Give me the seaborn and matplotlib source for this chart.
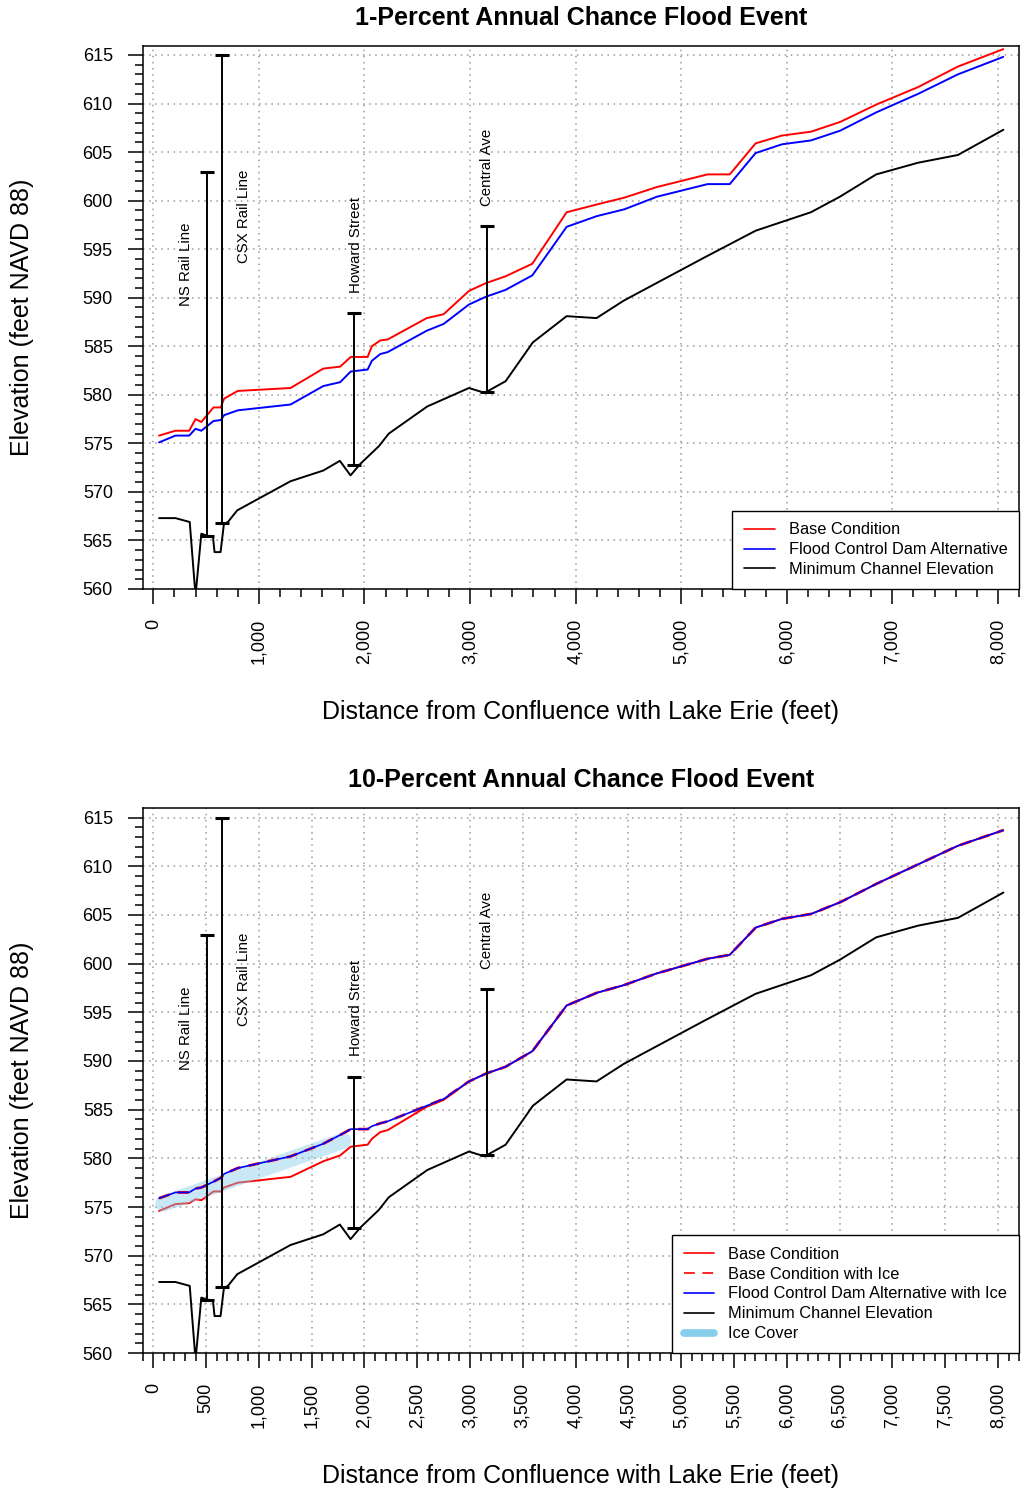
import matplotlib
matplotlib.use("Agg")
import matplotlib.pyplot as plt
from matplotlib.lines import Line2D
from matplotlib.ticker import MultipleLocator, FuncFormatter
import seaborn as sns

# stations (feet from Lake Erie) of the water surface profiles
stations = [55, 210, 340, 400, 455, 570, 640, 670, 800, 1300, 1610, 1770, 1870,
            2030, 2070, 2150, 2220, 2590, 2750, 2990, 3150, 3335, 3590, 3915,
            4200, 4460, 4770, 5250, 5460, 5705, 5955, 6230, 6505, 6850, 7245,
            7620, 8050]

# 1-percent event
base_1 = [575.8, 576.3, 576.3, 577.5, 577.2, 578.7, 578.7, 579.6, 580.4, 580.7,
          582.7, 582.9, 583.9, 583.9, 585.0, 585.6, 585.7, 587.9, 588.3, 590.7,
          591.5, 592.2, 593.5, 598.8, 599.6, 600.3, 601.4, 602.7, 602.7, 605.9,
          606.7, 607.1, 608.1, 609.9, 611.7, 613.8, 615.6]
fcd_1 = [575.1, 575.8, 575.8, 576.5, 576.3, 577.3, 577.4, 577.9, 578.4, 579.0,
         580.9, 581.3, 582.4, 582.6, 583.5, 584.2, 584.4, 586.6, 587.3, 589.3,
         590.1, 590.8, 592.3, 597.3, 598.4, 599.1, 600.4, 601.7, 601.7, 604.9,
         605.8, 606.2, 607.2, 609.1, 611.0, 613.0, 614.8]

# 10-percent event
base_10 = [574.6, 575.3, 575.4, 575.8, 575.7, 576.6, 576.6, 577.0, 577.5, 578.1,
           579.7, 580.3, 581.2, 581.4, 582.0, 582.7, 582.9, 585.3, 586.0, 587.9,
           588.7, 589.4, 591.0, 595.7, 597.0, 597.8, 599.0, 600.5, 600.9, 603.7,
           604.6, 605.1, 606.3, 608.2, 610.2, 612.1, 613.7]
base_ice_10 = [575.9, 576.5, 576.5, 576.9, 577.0, 577.6, 578.0, 578.4, 579.0, 580.2,
               581.5, 582.4, 583.0, 583.0, 583.3, 583.6, 583.8, 585.4, 586.1, 587.9,
               588.7, 589.4, 591.0, 595.7, 597.0, 597.8, 599.0, 600.5, 600.9, 603.7,
               604.6, 605.1, 606.3, 608.2, 610.2, 612.1, 613.7]
fcd_ice_10 = [575.9, 576.5, 576.5, 576.9, 577.0, 577.6, 578.0, 578.4, 579.0, 580.2,
              581.5, 582.4, 583.0, 583.0, 583.3, 583.6, 583.8, 585.4, 586.1, 587.9,
              588.7, 589.4, 591.0, 595.7, 597.0, 597.8, 599.0, 600.5, 600.9, 603.7,
              604.6, 605.1, 606.3, 608.2, 610.2, 612.1, 613.7]

# ice cover extent
ice_x = [95, 1800]
ice_y = [575.35, 581.8]

# minimum channel elevation
chan_x = [55, 210, 345, 400, 455, 505, 565, 580, 637, 669, 707, 795, 1300, 1610,
          1767, 1868, 1962, 2136, 2230, 2595, 2990, 3138, 3337, 3595, 3915, 4198,
          4456, 4765, 5230, 5705, 5952, 6228, 6503, 6847, 7243, 7621, 8052]
chan_y = [567.3, 567.3, 566.9, 559.3, 565.7, 565.5, 565.4, 563.8, 563.8, 566.7,
          566.9, 568.1, 571.1, 572.2, 573.2, 571.7, 572.9, 574.7, 576.0, 578.8,
          580.7, 580.2, 581.4, 585.4, 588.1, 587.9, 589.7, 591.5, 594.2, 596.9,
          597.8, 598.8, 600.4, 602.7, 603.9, 604.7, 607.3]

# bridges
bridge_names = ["NS Rail Line", "CSX Rail Line", "Howard Street", "Central Ave"]
bridge_x = [508, 647, 1900, 3158]
bridge_top = [602.9, 615.0, 588.4, 597.4]
bridge_low = [565.5, 566.8, 572.8, 580.3]
label_x = [313, 859, 1916, 3163]
label_y = [593.4, 598.4, 595.4, 603.4]

sns.set_theme(style="ticks", rc={
    "axes.edgecolor": "black", "axes.linewidth": 1.1,
    "xtick.color": "black", "ytick.color": "black",
    "text.color": "black", "axes.labelcolor": "black",
    "xtick.direction": "out", "ytick.direction": "out",
})
plt.rcParams["font.family"] = ["Liberation Sans", "DejaVu Sans"]

fig = plt.figure(figsize=(10.21, 14.90), dpi=100)
ax1 = fig.add_axes([0.1398, 0.6047, 0.8583, 0.3646])
ax2 = fig.add_axes([0.1398, 0.0919, 0.8583, 0.3656])


def setup_axes(ax, title, xstep, xminor):
    ax.set_xlim(-100, 8200)
    ax.set_ylim(560, 615.95)
    ax.xaxis.set_major_locator(MultipleLocator(xstep))
    ax.xaxis.set_minor_locator(MultipleLocator(xminor))
    ax.yaxis.set_major_locator(MultipleLocator(5))
    ax.yaxis.set_minor_locator(MultipleLocator(1))
    ax.xaxis.set_major_formatter(FuncFormatter(lambda v, p: f"{int(v):,}"))
    ax.tick_params(which="major", length=11, width=1.1, labelsize=13, pad=10.5)
    ax.tick_params(which="minor", length=5.5, width=1.1)
    ax.tick_params(axis="x", labelrotation=90)
    ax.grid(True, which="major", color="#9a9a9a", linestyle=(0, (1, 3)), linewidth=1.1)
    ax.set_axisbelow(True)
    for s in ax.spines.values():
        s.set_visible(True)
        s.set_linewidth(1.1)
    ax.set_title(title, fontsize=18, fontweight="bold", pad=15)
    ax.set_xlabel("Distance from Confluence with Lake Erie (feet)", fontsize=18)
    ax.set_ylabel("Elevation (feet NAVD 88)", fontsize=18)
    ax.xaxis.set_label_coords(0.5, -0.226)
    ax.xaxis.label.set_verticalalignment("center")
    ax.yaxis.set_label_coords(-0.1377, 0.5)
    ax.yaxis.label.set_verticalalignment("center")


def draw_bridges(ax):
    mid = [(t + b) / 2 for t, b in zip(bridge_top, bridge_low)]
    half = [(t - b) / 2 for t, b in zip(bridge_top, bridge_low)]
    ax.errorbar(bridge_x, mid, yerr=half, fmt="none", ecolor="black",
                elinewidth=1.4, capsize=5, capthick=2.2, zorder=5)
    for name, x, y in zip(bridge_names, label_x, label_y):
        ax.text(x, y, name, rotation=90, ha="center", va="center", fontsize=10.8)


leg_kw = dict(loc="lower right", bbox_to_anchor=(1, 0), borderaxespad=0,
              fontsize=11.8, handlelength=1.85, handletextpad=0.85,
              borderpad=0.72, labelspacing=0.3, fancybox=False, framealpha=1,
              edgecolor="black")

# top panel
setup_axes(ax1, "1-Percent Annual Chance Flood Event", 1000, 200)
sns.lineplot(x=stations, y=base_1, ax=ax1, color="red", linewidth=1.4,
             estimator=None, sort=False)
sns.lineplot(x=stations, y=fcd_1, ax=ax1, color="blue", linewidth=1.4,
             estimator=None, sort=False)
sns.lineplot(x=chan_x, y=chan_y, ax=ax1, color="black", linewidth=1.4,
             estimator=None, sort=False)
draw_bridges(ax1)
h1 = [Line2D([], [], color="red", lw=1.2),
      Line2D([], [], color="blue", lw=1.2),
      Line2D([], [], color="black", lw=1.2)]
leg = ax1.legend(h1, ["Base Condition", "Flood Control Dam Alternative",
                      "Minimum Channel Elevation"], **leg_kw)
leg.get_frame().set_linewidth(1.0)

# bottom panel
setup_axes(ax2, "10-Percent Annual Chance Flood Event", 500, 100)
sns.lineplot(x=stations, y=base_10, ax=ax2, color="red", linewidth=1.4,
             estimator=None, sort=False)
sns.lineplot(x=ice_x, y=ice_y, ax=ax2, color="skyblue", linewidth=11.5, alpha=0.45,
             solid_capstyle="round", estimator=None, sort=False)
sns.lineplot(x=stations, y=base_ice_10, ax=ax2, color="red", linewidth=2.0,
             linestyle=(0, (4, 3)), estimator=None, sort=False)
sns.lineplot(x=stations, y=fcd_ice_10, ax=ax2, color="blue", linewidth=1.2,
             estimator=None, sort=False)
sns.lineplot(x=chan_x, y=chan_y, ax=ax2, color="black", linewidth=1.4,
             estimator=None, sort=False)
draw_bridges(ax2)
h2 = [Line2D([], [], color="red", lw=1.2),
      Line2D([], [], color="red", lw=1.2, linestyle=(0, (6.5, 4.5))),
      Line2D([], [], color="blue", lw=1.2),
      Line2D([], [], color="black", lw=1.2),
      Line2D([], [], color="skyblue", lw=5.5, solid_capstyle="round")]
leg = ax2.legend(h2, ["Base Condition", "Base Condition with Ice",
                      "Flood Control Dam Alternative with Ice",
                      "Minimum Channel Elevation", "Ice Cover"], **leg_kw)
leg.get_frame().set_linewidth(1.0)

fig.savefig("out.png", dpi=100)
